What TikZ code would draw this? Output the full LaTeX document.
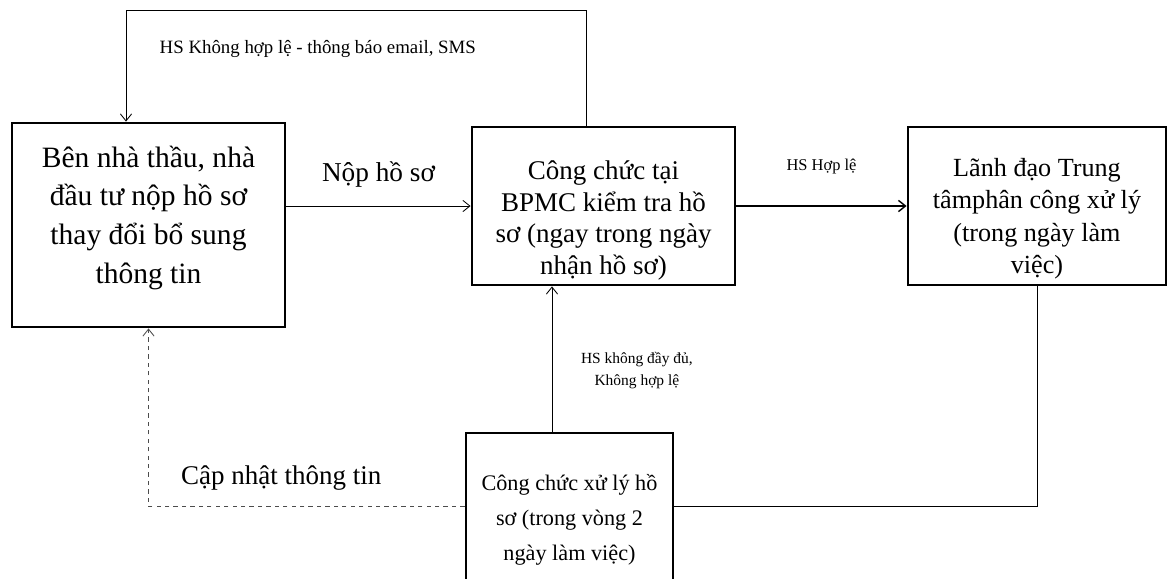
\documentclass[tikz,border=0pt]{standalone}
\usepackage{fontspec}
\setmainfont{Liberation Serif}
\usepackage{tikz}
\usetikzlibrary{calc,arrows.meta,positioning}
\tikzset{
    % process box (thick black frame)
    procbox/.style={
        rectangle, draw=black, fill=white, line width=2pt,
        align=center, inner sep=2pt
    },
    % thin connector
    link/.style={draw=black, line width=0.6pt},
    arrowlink/.style={link, -{Straight Barb[length=5pt,width=8pt]}},
    % connector labels
    lbl/.style={font=\fontsize{13.4}{16}\selectfont, align=center},
}
% struts to nudge box text up or down
\newcommand{\padtop}[1]{\rule{0pt}{#1}}
\newcommand{\padbot}[1]{\rule[-#1]{0pt}{#1}}

\begin{document}
\begin{tikzpicture}[x=0.025cm,y=-0.025cm]
      \useasboundingbox (0,0) rectangle (1172,579);
      % boxes
      \node[procbox,minimum width=6.825cm,minimum height=5.1cm,
        font=\fontsize{21}{27.5}\selectfont] (nhathau) at (148.5,225)
        {Bên nhà thầu, nhà\\đầu tư nộp hồ sơ\\thay đổi bổ sung\\thông tin\padbot{15pt}};
      \node[procbox,minimum width=6.575cm,minimum height=3.95cm,
        font=\fontsize{19.2}{22.5}\selectfont] (bpmc) at (603.5,206)
        {\padtop{34pt}Công chức tại\\BPMC kiểm tra hồ\\sơ (ngay trong ngày\\nhận hồ sơ)};
      \node[procbox,minimum width=6.45cm,minimum height=3.95cm,
        font=\fontsize{18.6}{23}\selectfont] (lanhdao) at (1037,206)
        {\padtop{31pt}Lãnh đạo Trung\\tâmphân công xử lý\\(trong ngày làm\\việc)};
      \node[procbox,minimum width=5.175cm,minimum height=3.675cm,
        font=\fontsize{15.8}{25}\selectfont] (xuly) at (569.5,506.5)
        {\padtop{30pt}Công chức xử lý hồ\\sơ (trong vòng 2\\ngày làm việc)};
      % helper points
      \coordinate (topR) at (586,10);
      \coordinate (topL) at (126,10);
      \coordinate (upX) at (552,0);
      % connectors
      \draw[arrowlink] (bpmc.north -| topR) -- (topR) -- (topL)
        node[lbl,pos=0.583,below=18pt] {HS Không hợp lệ - thông báo email, SMS}
        -- (nhathau.north -| topL);
      \draw[arrowlink] (nhathau.east |- bpmc.west) -- (bpmc.west)
        node[midway,above=10pt,font=\fontsize{19.4}{22}\selectfont] {Nộp hồ sơ};
      \draw[arrowlink,line width=1pt] (bpmc.east) -- (lanhdao.east -| lanhdao.west)
        node[midway,above=19pt,font=\fontsize{11.7}{14}\selectfont] {HS Hợp lệ};
      \draw[arrowlink] (xuly.north -| upX) -- (bpmc.south -| upX)
        node[lbl,pos=0.42,right=17pt,font=\fontsize{11}{15.5}\selectfont]
        {HS không đầy đủ,\\Không hợp lệ};
      \draw[link] (lanhdao.south) |- (xuly.east);
      \draw[arrowlink,dashed,draw=black!70] (xuly.west) -| (nhathau.south)
        node[pos=0.29,above=8pt,font=\fontsize{19.2}{22}\selectfont,text=black]
        {Cập nhật thông tin};
\end{tikzpicture}
\end{document}
